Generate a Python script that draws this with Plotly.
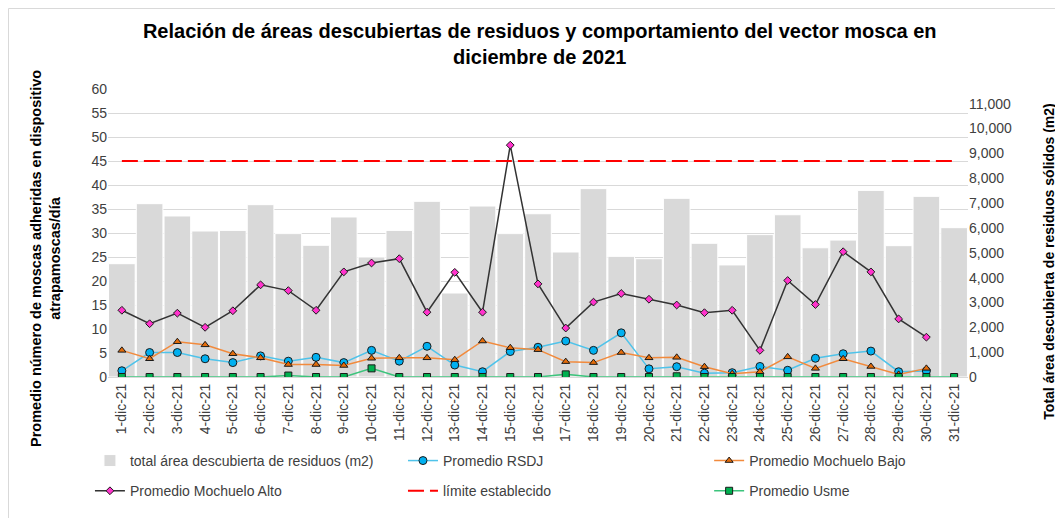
import plotly.graph_objects as go

days = [f"{d}-dic-21" for d in range(1, 32)]

area_m2 = [4560, 6975, 6480, 5875, 5900, 6935, 5770, 5300, 6440, 4830,
           5900, 7070, 3380, 6880, 5770, 6570, 5030, 7580, 4855, 4760,
           7190, 5380, 4510, 5730, 6530, 5200, 5510, 7510, 5285, 7270, 6010]

rsdj = [1.3, 5.1, 5.1, 3.8, 3.0, 4.4, 3.3, 4.1, 3.0, 5.55,
        3.3, 6.4, 2.5, 1.1, 5.3, 6.2, 7.5, 5.55, 9.2, 1.7,
        2.15, 0.8, 0.9, 2.2, 1.4, 3.9, 4.85, 5.4, 1.1, 1.25, None]

mochuelo_bajo = [5.55, 3.8, 7.35, 6.7, 4.85, 4.0, 2.6, 2.6, 2.4, 3.9,
                 4.0, 4.0, 3.6, 7.5, 6.1, 5.7, 3.2, 3.0, 5.1, 4.0,
                 4.1, 2.15, 0.7, 1.1, 4.2, 1.8, 3.8, 2.2, 0.55, 1.8, None]

mochuelo_alto = [13.9, 11.1, 13.3, 10.35, 13.8, 19.2, 18.0, 13.9, 21.9, 23.75,
                 24.65, 13.5, 21.8, 13.5, 48.3, 19.4, 10.2, 15.6, 17.4, 16.2,
                 15.0, 13.4, 13.9, 5.55, 20.1, 15.1, 26.1, 21.9, 12.1, 8.3, None]

usme = [0, 0, 0, 0, 0, 0, 0.3, 0, 0, 1.8,
        0, 0, 0, 0, 0, 0, 0.55, 0, 0, 0,
        0.15, 0, 0, 0, 0, 0, 0, 0, 0, 0, 0]

limite = [45] * 31

FONT = "Liberation Sans, Arial, sans-serif"
EDGE = dict(color="#1a1a1a", width=1)

fig = go.Figure()

fig.add_trace(go.Bar(
    x=days, y=area_m2, name="total área descubierta de residuos (m2)",
    marker=dict(color="#d9d9d9", line=dict(color="#ffffff", width=1)),
    yaxis="y", legend="legend", legendgroup="g1"))

fig.add_trace(go.Scatter(
    x=days, y=rsdj, name="Promedio RSDJ", mode="lines+markers", yaxis="y2",
    line=dict(color="#4fc3ea", width=1.5),
    marker=dict(symbol="circle", size=8, color="#00b0f0", line=EDGE),
    legend="legend2", legendgroup="g2"))

fig.add_trace(go.Scatter(
    x=days, y=mochuelo_bajo, name="Promedio Mochuelo Bajo", mode="lines+markers", yaxis="y2",
    line=dict(color="#f28a3c", width=1.5),
    marker=dict(symbol="triangle-up", size=7, color="#e46c0a", line=EDGE),
    legend="legend3", legendgroup="g3"))

fig.add_trace(go.Scatter(
    x=days, y=mochuelo_alto, name="Promedio Mochuelo Alto", mode="lines+markers", yaxis="y2",
    line=dict(color="#333333", width=1.5),
    marker=dict(symbol="diamond", size=6, color="#ff33cc", line=EDGE),
    legend="legend", legendgroup="g4"))

fig.add_trace(go.Scatter(
    x=days, y=limite, name="límite establecido", mode="lines", yaxis="y2",
    line=dict(color="#ff0000", width=2, dash="16px,6px"),
    legend="legend2", legendgroup="g5"))

fig.add_trace(go.Scatter(
    x=days, y=usme, name="Promedio Usme", mode="lines+markers", yaxis="y2",
    line=dict(color="#3cc47c", width=1.5),
    marker=dict(symbol="square", size=7, color="#00b050", line=EDGE),
    legend="legend3", legendgroup="g6"))

leg_common = dict(orientation="v", xanchor="left", yanchor="top", y=-0.236,
                  font=dict(family=FONT, size=14, color="#404040"),
                  tracegroupgap=9, bgcolor="rgba(0,0,0,0)", traceorder="grouped")

fig.update_layout(
    width=1055, height=510,
    paper_bgcolor="white", plot_bgcolor="white",
    margin=dict(l=100, r=95, t=81, b=141, autoexpand=False),
    font=dict(family=FONT, size=13, color="#404040"),
    bargap=0.04,
    showlegend=True,
    title=dict(
        text="<b>Relación de áreas descubiertas de residuos y comportamiento del vector mosca en<br>diciembre de 2021</b>",
        x=0.502, xref="paper", xanchor="center",
        y=0.942, yref="container", yanchor="middle",
        font=dict(family=FONT, size=20, color="#000000")),
    xaxis=dict(
        type="category", range=[-0.5, 30.5], tickangle=-90, showgrid=False, automargin=False,
        showline=True, linecolor="#d9d9d9", ticks="",
        tickfont=dict(size=14, color="#404040")),
    yaxis=dict(
        side="right", range=[0, 11590], tickvals=list(range(0, 12000, 1000)),
        tickformat=",", showgrid=False, zeroline=False, ticks="", automargin=False,
        tickfont=dict(size=14, color="#404040")),
    yaxis2=dict(
        side="left", overlaying="y", range=[0, 60], dtick=5, automargin=False,
        showgrid=True, gridcolor="#d9d9d9", gridwidth=1, zeroline=False, ticks="",
        tickfont=dict(size=14, color="#404040")),
    legend=dict(x=-0.021, **leg_common),
    legend2=dict(x=0.343, **leg_common),
    legend3=dict(x=0.699, **leg_common),
    annotations=[
        dict(text="<b>Promedio número de moscas adheridas en dispositivo<br>atrapamoscas/día</b>",
             xref="paper", yref="paper", x=-0.072, y=0.41, textangle=-90,
             showarrow=False, xanchor="center", yanchor="middle",
             font=dict(family=FONT, size=14.5, color="#000000")),
        dict(text="<b>Total área descubierta de residuos sólidos (m2)</b>",
             xref="paper", yref="paper", x=1.094, y=0.40, textangle=-90,
             showarrow=False, xanchor="center", yanchor="middle",
             font=dict(family=FONT, size=14, color="#000000")),
    ],
    shapes=[
        dict(type="rect", xref="paper", yref="paper",
             x0=(0.5 - 100) / 860, x1=(1070 - 100) / 860,
             y0=(369 - 520) / 288, y1=(369 - 0.5) / 288,
             line=dict(color="#d9d9d9", width=1), layer="below"),
    ],
)

fig.write_html("out.html")
